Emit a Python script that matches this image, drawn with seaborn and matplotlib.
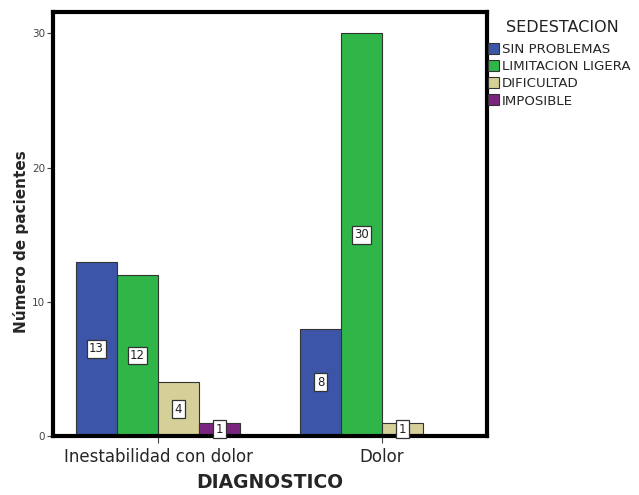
import matplotlib
matplotlib.use("Agg")
import matplotlib.pyplot as plt
import seaborn as sns
import pandas as pd
import numpy as np

diagnosticos = ["Inestabilidad con dolor", "Dolor"]
categorias = ["SIN PROBLEMAS", "LIMITACION LIGERA", "DIFICULTAD", "IMPOSIBLE"]
inestabilidad = [13, 12, 4, 1]
dolor = [8, 30, 1, 0]
colores = ["#3d55a8", "#2fb548", "#d5cf98", "#7a2580"]

rows = []
for diag, vals in zip(diagnosticos, [inestabilidad, dolor]):
    for cat, v in zip(categorias, vals):
        rows.append({"DIAGNOSTICO": diag, "SEDESTACION": cat, "n": v})
df = pd.DataFrame(rows)

sns.set_style("white")
plt.rcParams["font.family"] = ["DejaVu Sans"]

fig = plt.figure(figsize=(6.39, 4.95), dpi=100)
ax = fig.add_axes([53 / 639, 1 - 436 / 495, 434 / 639, 424 / 495])

sns.barplot(data=df, x="DIAGNOSTICO", y="n", hue="SEDESTACION",
            hue_order=categorias, order=diagnosticos, palette=colores,
            width=0.732, gap=0, edgecolor="#333333", linewidth=0.8,
            saturation=1, ax=ax, legend=True)

# value labels in white boxes at mid-height of each bar
for cont in ax.containers:
    for bar in cont:
        h = bar.get_height()
        if h is None or np.isnan(h) or h <= 0:
            continue
        ax.text(bar.get_x() + bar.get_width() / 2, h / 2, f"{int(h)}",
                ha="center", va="center", fontsize=8.5, color="#222222",
                bbox=dict(boxstyle="square,pad=0.2", fc="white",
                          ec="#333333", lw=0.9), zorder=5)

ax.set_xlim(-0.469, 1.469)
ax.set_ylim(0, 31.6)
ax.set_yticks([0, 10, 20, 30])
ax.tick_params(axis="y", labelsize=7.5, labelcolor="#444444", length=4,
               width=0.8, color="#444444", direction="out", left=True,
               pad=1.5)
ax.tick_params(axis="x", labelsize=12, length=5, width=0.8,
               color="#444444", direction="out", bottom=True, pad=4)
for s in ax.spines.values():
    s.set_linewidth(3)
    s.set_color("black")

ax.set_xlabel("DIAGNOSTICO", fontsize=13.5, fontweight="bold")
ax.xaxis.set_label_coords(0.5, -0.088)
ax.set_ylabel("Número de pacientes", fontsize=11, fontweight="bold")
ax.yaxis.set_label_coords(-0.056, 0.458)

leg = ax.legend(loc="upper left", bbox_to_anchor=(488 / 639, 1 - 43 / 495),
                bbox_transform=fig.transFigure, frameon=False, fontsize=9.6,
                handlelength=0.85, handleheight=0.9, handletextpad=0.2,
                labelspacing=0.3, borderaxespad=0.0, borderpad=0.0)
for p in leg.get_patches():
    p.set_edgecolor("#333333")
    p.set_linewidth(0.8)
fig.text(506 / 639, 1 - 28 / 495, "SEDESTACION", fontsize=11.5,
         ha="left", va="center", color="#222222")

fig.savefig("out.png", dpi=100)
